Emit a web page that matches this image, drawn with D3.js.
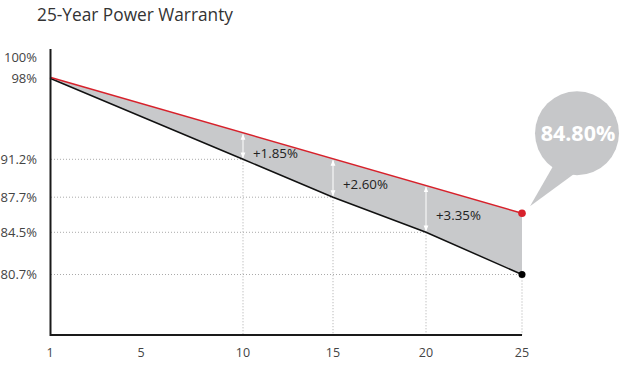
<!DOCTYPE html>
<html>
<head>
<meta charset="utf-8">
<script src="https://cdn.jsdelivr.net/npm/d3@7/dist/d3.min.js"></script>
<style>
  html, body { margin: 0; padding: 0; background: #fff; }
  svg { display: block; font-family: "Open Sans", "Noto Sans", sans-serif; }
</style>
</head>
<body>
<svg id="chart" width="627" height="366"></svg>
<script>
// ---- data ----
const title = "25-Year Power Warranty";
const xTicks = [1, 5, 10, 15, 20, 25];
const yTicks = [100, 98, 91.2, 87.7, 84.5, 80.7];
const yTickLabels = ["100%", "98%", "91.2%", "87.7%", "84.5%", "80.7%"];
const standardYears = [1, 10, 15, 20, 25];
const standardValues = [98, 91.2, 87.7, 84.5, 80.7];
const productYears = [1, 25];
const productValues = [98.1, 86.24];
const gapYears = [10, 15, 20];
const gapLabels = ["+1.85%", "+2.60%", "+3.35%"];
const bubbleLabel = "84.80%";

// ---- layout ----
const svg = d3.select("#chart");
const x = d3.scaleLinear()
  .domain(xTicks)
  .range([50, 141, 243, 333, 426, 522]);
const y = d3.scaleLinear()
  .domain([80.7, 84.5, 87.7, 91.2, 98, 100])
  .range([274.5, 232.3, 197.2, 159.3, 78.3, 56.7]);
const baseY = 335, axisTop = 49;

const std = standardYears.map((d, i) => [d, standardValues[i]]);
const prod = productYears.map((d, i) => [d, productValues[i]]);

// title
svg.append("text").attr("x", 37).attr("y", 20.5)
  .attr("font-size", 17.3).attr("fill", "#333").text(title);

// gray area between lines (polygon: product line forward, standard line backward)
const poly = prod.concat(std.slice().reverse());
svg.append("path")
  .attr("d", d3.line().x(d => x(d[0])).y(d => y(d[1]))(poly) + "Z")
  .attr("fill", "#c8c9cb");

// dotted grid
const gridG = svg.append("g").attr("stroke", "#aaa").attr("stroke-width", 1)
  .attr("stroke-dasharray", "1,2");
std.slice(1).forEach(d => {
  gridG.append("line").attr("x1", 51).attr("x2", x(d[0]))
    .attr("y1", y(d[1])).attr("y2", y(d[1]));
  gridG.append("line").attr("x1", x(d[0])).attr("x2", x(d[0]))
    .attr("y1", y(d[1])).attr("y2", baseY);
});

// lines
const line = d3.line().x(d => x(d[0])).y(d => y(d[1]));
svg.append("path").attr("d", line(std)).attr("fill", "none")
  .attr("stroke", "#111").attr("stroke-width", 1.5);
svg.append("path").attr("d", line(prod)).attr("fill", "none")
  .attr("stroke", "#d7212b").attr("stroke-width", 1.5);

// arrows
const defs = svg.append("defs");
defs.append("marker").attr("id", "ah").attr("viewBox", "0 0 10 10")
  .attr("refX", 9).attr("refY", 5).attr("markerWidth", 6).attr("markerHeight", 6)
  .attr("orient", "auto-start-reverse").attr("markerUnits", "userSpaceOnUse")
  .append("path").attr("d", "M0,1 L10,5 L0,9 Z").attr("fill", "#fff");

const px0 = x(prod[0][0]), py0 = y(prod[0][1]);
const px1 = x(prod[1][0]), py1 = y(prod[1][1]);
const redAt = xx => py0 + (xx - px0) / (px1 - px0) * (py1 - py0);

gapYears.forEach((yr, i) => {
  const sv = standardValues[standardYears.indexOf(yr)];
  const xx = x(yr), top = redAt(xx), bot = y(sv);
  svg.append("line").attr("x1", xx).attr("x2", xx)
    .attr("y1", top + 1.5).attr("y2", bot - 1.5)
    .attr("stroke", "#fff").attr("stroke-width", 1)
    .attr("marker-start", "url(#ah)").attr("marker-end", "url(#ah)");
  svg.append("text").attr("x", xx + 10).attr("y", (top + bot) / 2 + 11.5)
    .attr("font-size", 13.3).attr("fill", "#222").text(gapLabels[i]);
});

// end dots
svg.append("circle").attr("cx", px1).attr("cy", py1).attr("r", 3.8).attr("fill", "#d7212b");
const sEnd = std[std.length - 1];
svg.append("circle").attr("cx", x(sEnd[0])).attr("cy", y(sEnd[1])).attr("r", 3.5).attr("fill", "#000");

// axes
svg.append("line").attr("x1", 50.5).attr("x2", 50.5).attr("y1", axisTop).attr("y2", baseY + 1)
  .attr("stroke", "#1a1a1a").attr("stroke-width", 2);
svg.append("line").attr("x1", 50).attr("x2", x(25)).attr("y1", baseY).attr("y2", baseY)
  .attr("stroke", "#1a1a1a").attr("stroke-width", 2);

// y tick labels
svg.append("g").selectAll("text").data(yTicks).join("text")
  .attr("x", 37).attr("y", d => y(d) + 4.8).attr("text-anchor", "end")
  .attr("font-size", 13).attr("fill", "#444")
  .text((d, i) => yTickLabels[i]);

// x tick labels
svg.append("g").selectAll("text").data(xTicks).join("text")
  .attr("x", d => x(d)).attr("y", 357).attr("text-anchor", "middle")
  .attr("font-size", 12.5).attr("fill", "#444").text(d => d);

// bubble
const bx = px1 + 55, by = py1 - 80, br = 42;
svg.append("path")
  .attr("d", `M${bx - 24},${by + 33} L${bx - 2},${by + 40} L${px1 + 8},${py1 - 7} Z`)
  .attr("fill", "#c6c7c9");
svg.append("circle").attr("cx", bx).attr("cy", by).attr("r", br).attr("fill", "#c6c7c9");
svg.append("text").attr("x", bx + 1).attr("y", by + 7.5).attr("text-anchor", "middle")
  .attr("font-size", 21.5).attr("font-weight", "bold").attr("fill", "#fff").text(bubbleLabel);
</script>
</body>
</html>
